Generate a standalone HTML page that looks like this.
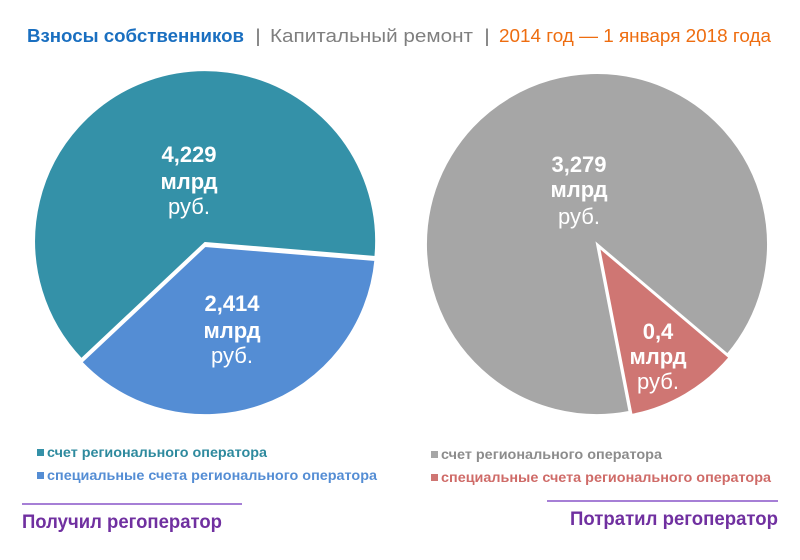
<!DOCTYPE html>
<html><head><meta charset="utf-8"><style>html,body{margin:0;padding:0;background:#fff;overflow:hidden;}svg{display:block;}</style></head>
<body>
<svg width="800" height="560" viewBox="0 0 800 560" xmlns="http://www.w3.org/2000/svg" font-family="'Liberation Sans', sans-serif">
<rect width="800" height="560" fill="#fff"/>
<text y="42" font-size="18">
<tspan x="27" fill="#1a6fc0" font-weight="bold" textLength="217" lengthAdjust="spacingAndGlyphs">Взносы собственников</tspan>
<tspan x="256" fill="#444" textLength="4" lengthAdjust="spacingAndGlyphs">|</tspan>
<tspan x="270" fill="#7f7f7f" textLength="203" lengthAdjust="spacingAndGlyphs">Капитальный  ремонт</tspan>
<tspan x="485" fill="#444" textLength="4" lengthAdjust="spacingAndGlyphs">|</tspan>
<tspan x="499" fill="#ee6d10" textLength="272" lengthAdjust="spacingAndGlyphs">2014 год — 1 января 2018 года</tspan>
</text>
<!-- left pie -->
<g stroke="#fff" stroke-width="2">
<path d="M205,243 L375.4,257 A171,171 0 1 0 81.4,359.2 Z" fill="#3491a8"/>
<path d="M205,246 L375.4,260 A171,171 0 0 1 81.4,362.2 Z" fill="#548dd4"/>
</g>
<g fill="#fff" text-anchor="middle" font-size="22">
<text x="189" y="162" font-weight="bold">4,229</text>
<text x="189" y="189" font-weight="bold">млрд</text>
<text x="189" y="214">руб.</text>
<text x="232" y="311" font-weight="bold">2,414</text>
<text x="232" y="338" font-weight="bold">млрд</text>
<text x="232" y="363">руб.</text>
</g>
<!-- right pie -->
<g stroke="#fff" stroke-width="2">
<path d="M597,244 L727.5,354.5 A171,171 0 1 0 629.6,411.9 Z" fill="#a6a6a6"/>
<path d="M599,247 L729.5,357.5 A171,171 0 0 1 631.6,414.9 Z" fill="#cf7673"/>
</g>
<g fill="#fff" text-anchor="middle" font-size="22">
<text x="579" y="172" font-weight="bold">3,279</text>
<text x="579" y="197" font-weight="bold">млрд</text>
<text x="579" y="224">руб.</text>
<text x="658" y="339" font-weight="bold">0,4</text>
<text x="658" y="364" font-weight="bold">млрд</text>
<text x="658" y="389">руб.</text>
</g>
<!-- legends -->
<rect x="37" y="449" width="7" height="7" fill="#3491a8"/>
<text x="47" y="457" font-size="13.5" font-weight="bold" fill="#2e8a9e" textLength="220" lengthAdjust="spacingAndGlyphs">счет регионального оператора</text>
<rect x="37" y="472" width="7" height="7" fill="#548dd4"/>
<text x="47" y="480" font-size="13.5" font-weight="bold" fill="#548dd4" textLength="330" lengthAdjust="spacingAndGlyphs">специальные счета регионального оператора</text>
<line x1="22" y1="504" x2="242" y2="504" stroke="#8855c8" stroke-width="1.5"/>
<text x="22" y="528" font-size="19" font-weight="bold" fill="#7030a0" textLength="200" lengthAdjust="spacingAndGlyphs">Получил регоператор</text>
<rect x="431" y="451" width="7" height="7" fill="#a6a6a6"/>
<text x="441" y="459" font-size="13.5" font-weight="bold" fill="#8c8c8c" textLength="221" lengthAdjust="spacingAndGlyphs">счет регионального оператора</text>
<rect x="431" y="474" width="7" height="7" fill="#cf7673"/>
<text x="441" y="482" font-size="13.5" font-weight="bold" fill="#cf6b68" textLength="330" lengthAdjust="spacingAndGlyphs">специальные счета регионального оператора</text>
<line x1="547" y1="501" x2="778" y2="501" stroke="#8855c8" stroke-width="1.5"/>
<text x="570" y="525" font-size="19" font-weight="bold" fill="#7030a0" textLength="208" lengthAdjust="spacingAndGlyphs">Потратил регоператор</text>
</svg>
</body></html>
